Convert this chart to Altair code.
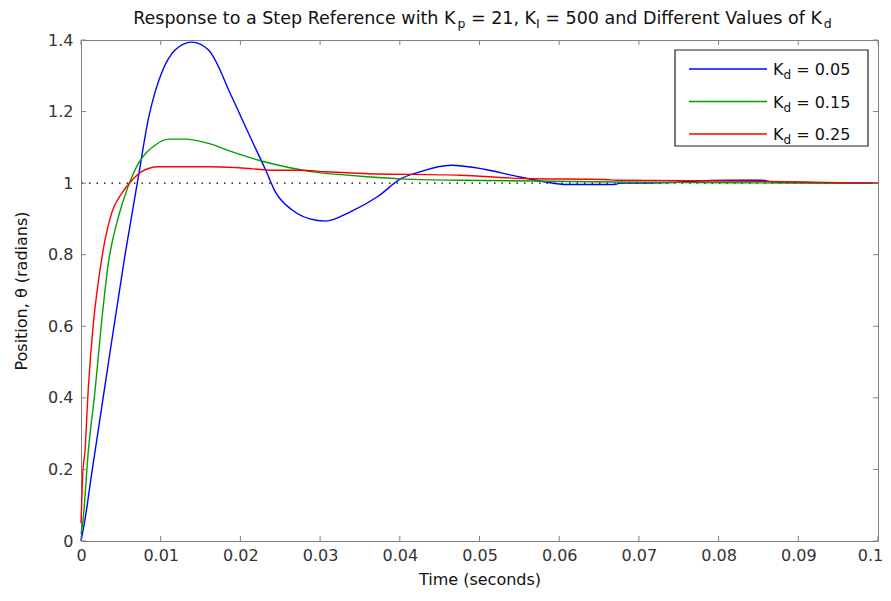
import altair as alt
import pandas as pd

# ---------------- data ----------------
t_blue = [0, 0.0005, 0.00134, 0.00343, 0.00553, 0.0072, 0.00846, 0.0093, 0.0101, 0.0118, 0.0139,
          0.016, 0.0189, 0.021, 0.0231, 0.0244, 0.0265, 0.0286, 0.0307, 0.0338, 0.0372,
          0.0402, 0.0423, 0.0464, 0.0506, 0.0543, 0.0581, 0.061, 0.0669, 0.0677, 0.0702,
          0.0815, 0.0853, 0.087, 0.1]
v_blue = [0.0, 0.06, 0.188, 0.496, 0.80, 1.018, 1.18, 1.255, 1.307, 1.372, 1.394,
          1.372, 1.242, 1.14, 1.04, 0.975, 0.925, 0.901, 0.894, 0.92, 0.962,
          1.013, 1.03, 1.05, 1.039, 1.021, 1.004, 0.996, 0.996, 1.0, 1.0,
          1.008, 1.008, 1.003, 1.0]

t_green = [0, 0.0002, 0.00092, 0.00176, 0.0026, 0.00343, 0.0047, 0.0059, 0.0072, 0.0093,
           0.011, 0.0131, 0.016, 0.0189, 0.0223, 0.0252, 0.0296, 0.033, 0.0359, 0.0401,
           0.0476, 0.0568, 0.0673, 0.0815, 0.1]
v_green = [0.02, 0.047, 0.252, 0.42, 0.616, 0.776, 0.906, 0.99, 1.055, 1.106,
           1.123, 1.123, 1.111, 1.088, 1.064, 1.048, 1.03, 1.023, 1.018, 1.012,
           1.008, 1.006, 1.003, 1.001, 1.0]

t_red = [0, 0.0002, 0.0005, 0.0009, 0.00155, 0.0022, 0.003, 0.0039, 0.0051, 0.0064,
         0.0076, 0.0097, 0.016, 0.0198, 0.0244, 0.0275, 0.0307, 0.0355, 0.0476, 0.0556,
         0.0657, 0.0673, 0.0853, 0.0903, 0.1]
v_red = [0.05, 0.18, 0.252, 0.42, 0.608, 0.728, 0.84, 0.92, 0.971, 1.008,
         1.032, 1.046, 1.046, 1.043, 1.036, 1.036, 1.032, 1.027, 1.022, 1.013,
         1.01, 1.008, 1.005, 1.003, 1.0]

kd_values = ["0.05", "0.15", "0.25"]
series_colors = ["#0000ff", "#00a000", "#ff0000"]
series_t = [t_blue, t_green, t_red]
series_v = [v_blue, v_green, v_red]

x_ticks = [0, 0.01, 0.02, 0.03, 0.04, 0.05, 0.06, 0.07, 0.08, 0.09, 0.1]
y_ticks = [0, 0.2, 0.4, 0.6, 0.8, 1.0, 1.2, 1.4]
reference_level = 1.0

# ---------------- layout ----------------
W, H = 797, 501
FONT = "DejaVu Sans"
AXIS_GRAY = "#808080"

# DejaVu Sans advance widths (per 2048 em) for text placement
_w = {" ": 651, ",": 651, ".": 651, "=": 1716, "K": 1343, "R": 1423, "S": 1300, "D": 1577,
      "V": 1401, "I": 604, "a": 1255, "c": 1126, "d": 1300, "e": 1260, "f": 721, "h": 1298,
      "i": 569, "l": 569, "n": 1298, "o": 1253, "p": 1300, "r": 842, "s": 1067, "t": 803,
      "u": 1298, "w": 1675, "v": 1212}
for _c in "0123456789":
    _w[_c] = 1303


def text_width(s, size):
    return sum(_w.get(c, 1250) for c in s) * size / 2048.0


one_row = pd.DataFrame({"k": [0]})

xs = alt.Scale(domain=[0, 0.1], nice=False, zero=False)
ys = alt.Scale(domain=[0, 1.4], nice=False, zero=False)
x_axis = alt.Axis(values=x_ticks, title="Time (seconds)", labelFlush=False,
                  labelOffset={"condition": {"test": "datum.value >= 0.099", "value": -8},
                               "value": 0},
                  labelExpr="format(datum.value, '~g')")
y_axis = alt.Axis(values=y_ticks, title="Position, θ (radians)", labelFlush=False,
                  labelExpr="format(datum.value, '~g')")

layers = []

# reference dotted line
layers.append(
    alt.Chart(one_row).mark_rule(color="#000000", strokeDash=[1.5, 6], strokeWidth=1.2)
    .encode(y=alt.Y(datum=reference_level, scale=ys, axis=y_axis))
)

# curves
for i in range(3):
    df = pd.DataFrame({"t": series_t[i], "v": series_v[i]})
    layers.append(
        alt.Chart(df).mark_line(color=series_colors[i], strokeWidth=1.4, interpolate="monotone")
        .encode(
            x=alt.X("t:Q", scale=xs, axis=x_axis),
            y=alt.Y("v:Q", scale=ys, axis=y_axis),
        )
    )

# inward ticks on all four sides
xt = pd.DataFrame({"t": x_ticks})
yt = pd.DataFrame({"v": y_ticks})
for y0, y1 in [(H, H - 5), (0, 5)]:
    layers.append(
        alt.Chart(xt).mark_rule(color=AXIS_GRAY, strokeWidth=1)
        .encode(x=alt.X("t:Q", scale=xs, axis=x_axis), y=alt.value(y0), y2=alt.value(y1))
    )
for x0, x1 in [(0, 5), (W, W - 5)]:
    layers.append(
        alt.Chart(yt).mark_rule(color=AXIS_GRAY, strokeWidth=1)
        .encode(y=alt.Y("v:Q", scale=ys, axis=y_axis), x=alt.value(x0), x2=alt.value(x1))
    )


def add_text(pieces, x0, y_base, main_size, sub_size, sub_drop):
    cx = x0
    for s, sub in pieces:
        size = sub_size if sub else main_size
        lead = len(s) - len(s.lstrip(" "))
        cx += text_width(" " * lead, size)
        body = s.lstrip(" ")
        layers.append(
            alt.Chart(one_row).mark_text(text=body, font=FONT, fontSize=size, align="left",
                                         baseline="alphabetic", color="#111111")
            .encode(x=alt.value(cx), y=alt.value(y_base + (sub_drop if sub else 0)))
        )
        cx += text_width(body, size)


# title with subscripts
title_pieces = [("Response to a Step Reference with K", False), ("p", True),
                (" = 21, K", False), ("I", True),
                (" = 500 and Different Values of K", False), ("d", True)]
T_MAIN, T_SUB = 17.5, 12.5
total = sum(text_width(s, T_SUB if sub else T_MAIN) for s, sub in title_pieces)
add_text(title_pieces, W / 2 + 3 - total / 2, -16, T_MAIN, T_SUB, 4)

# legend box
layers.append(
    alt.Chart(one_row).mark_rect(fill="white", stroke="#222222", strokeWidth=1.2)
    .encode(x=alt.value(594), x2=alt.value(787), y=alt.value(10), y2=alt.value(106))
)
for i in range(3):
    ly = 29 + 32.5 * i
    layers.append(
        alt.Chart(one_row).mark_rule(color=series_colors[i], strokeWidth=1.4)
        .encode(x=alt.value(608), x2=alt.value(686), y=alt.value(ly))
    )
    add_text([("K", False), ("d", True), (" = " + kd_values[i], False)],
             692, ly + 6, 16, 12, 4)

chart = (
    alt.layer(*layers)
    .properties(width=W, height=H, background="white",
                autosize=alt.AutoSizeParams(type="none"),
                padding={"left": 73, "top": 32, "right": 5, "bottom": 50})
    .configure_view(stroke=AXIS_GRAY, strokeWidth=1)
    .configure_axis(
        domain=False, ticks=False, tickSize=0, grid=False,
        labelFont=FONT, labelFontSize=16, labelColor="#333333",
        titleFont=FONT, titleFontSize=16, titleFontWeight="normal", titleColor="#111111",
    )
    .configure_axisX(labelPadding=6, titlePadding=8)
    .configure_axisY(labelPadding=8, titlePadding=18)
)

chart.save("out.html", embed_options={"renderer": "svg", "actions": False})
